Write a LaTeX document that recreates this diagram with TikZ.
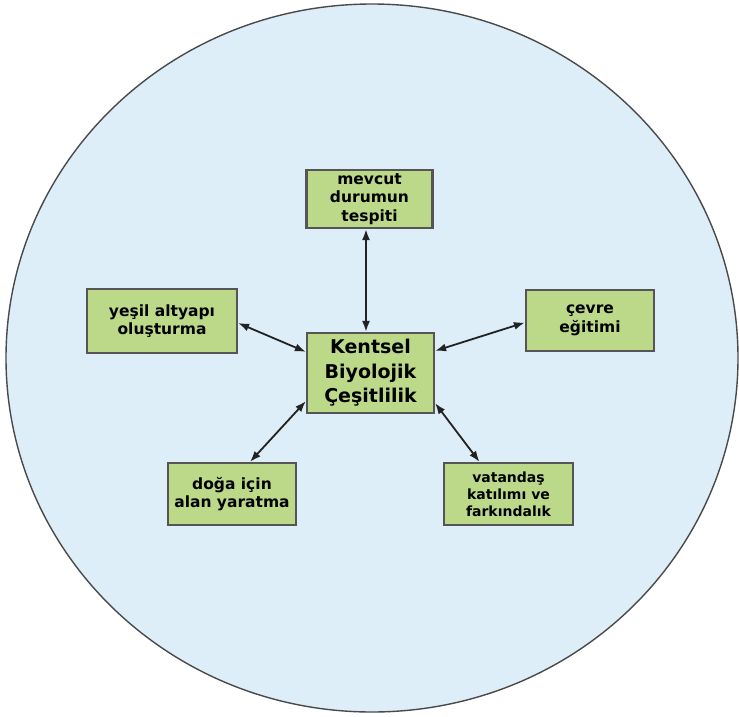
\documentclass[tikz,border=0pt]{standalone}
\usepackage{fontspec}
\setmainfont{DejaVu Sans}
\usetikzlibrary{arrows.meta}
\definecolor{bgblue}{HTML}{DDEEF9}
\definecolor{boxgreen}{HTML}{BCD98A}
\definecolor{boxedge}{HTML}{555555}
\definecolor{rimgray}{HTML}{4A4A4A}
\definecolor{arrowcol}{HTML}{222222}
\tikzset{
  topic/.style={draw=boxedge, line width=2.2pt, fill=boxgreen, align=center,
    inner sep=1pt, font=\bfseries\fontsize{15.5}{18.5}\selectfont},
  hub/.style={topic, font=\bfseries\fontsize{19}{24.5}\selectfont},
  link/.style={draw=arrowcol, line width=1.8pt,
    {Latex[length=11pt,width=8pt]}-{Latex[length=11pt,width=8pt]}}
}
\begin{document}
\begin{tikzpicture}[x=1pt,y=-1pt]
\useasboundingbox (0,0) rectangle (739,716);
\fill[white] (0,0) rectangle (739,716);
\draw[rimgray, line width=1.4pt, fill=bgblue] (372,358) ellipse [x radius=366, y radius=354];

\node[hub, minimum width=127pt, minimum height=80pt] (cen) at (370.5,373) {Kentsel\\Biyolojik\\Çeşitlilik};
\node[topic, minimum width=126pt, minimum height=58pt] (mev) at (369.5,199) {mevcut\\durumun\\tespiti};
\node[topic, minimum width=150pt, minimum height=64pt] (yes) at (162,321) {yeşil altyapı\\oluşturma};
\node[topic, minimum width=128pt, minimum height=61pt] (cev) at (590,320.5) {çevre\\eğitimi};
\node[topic, minimum width=128pt, minimum height=62pt] (dog) at (232,494) {doğa için\\alan yaratma};
\node[topic, minimum width=129pt, minimum height=62pt, font=\bfseries\fontsize{14}{17}\selectfont] (vat) at (508.5,494) {vatandaş\\katılımı ve\\farkındalık};

\draw[link] ([xshift=-3.5pt]mev.south) -- ([xshift=-4.5pt]cen.north);
\draw[link] ([yshift=-2pt]yes.east) -- ([yshift=-20pt]cen.north west);
\draw[link] ([xshift=18pt]dog.north) -- ([yshift=13pt]cen.south west);
\draw[link] ([yshift=-2pt]cev.west) -- ([yshift=-19pt]cen.north east);
\draw[link] ([yshift=11pt]cen.south east) -- ([xshift=-29pt]vat.north);
\end{tikzpicture}
\end{document}
